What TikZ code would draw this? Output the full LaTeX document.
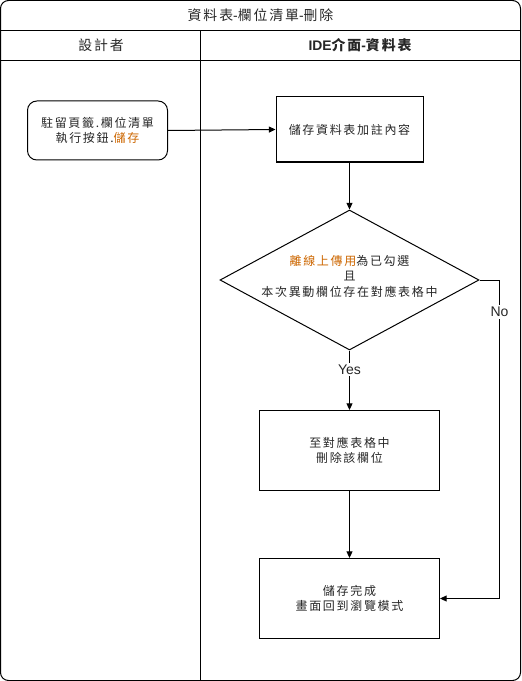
\documentclass[tikz,border=0pt]{standalone}
\usepackage{fontspec}
\newfontfamily\cjk{Noto Sans CJK TC}[LetterSpace=14]
\newfontfamily\latin{Liberation Sans}
\usetikzlibrary{shapes.geometric,arrows.meta}
\definecolor{accent}{HTML}{CC6600}
\begin{document}
\begin{tikzpicture}[x=0.75pt,y=-0.75pt,
  every node/.style={font=\cjk\fontsize{9}{11.6}\selectfont, text=black!85},
  frame/.style={draw=black, line width=0.75pt},
  head/.style={font=\cjk\fontsize{10.4}{12}\selectfont},
  stepbox/.style={draw=black, line width=0.75pt, align=center, inner sep=0pt},
  flow/.style={draw=black, line width=0.75pt, -{Triangle[length=5pt,width=4.5pt]}},
  lbl/.style={fill=white, inner sep=1.5pt, font=\latin\fontsize{10.5}{12}\selectfont}]
\useasboundingbox (0,0) rectangle (521,681);
% pool frame, title band and lane headers
\draw[frame, rounded corners=6pt] (0.5,0.5) rectangle (520.5,680.5);
\draw[frame] (0.5,30.5) -- (520.5,30.5);
\draw[frame] (0.5,60.5) -- (520.5,60.5);
\draw[frame] (200.5,30.5) -- (200.5,680.5);
\node[head] (title) at (260.5,15.5) {資料表{\latin -}欄位清單{\latin -}刪除};
\node[head] (laneA) at (101,45.5) {設計者};
\node[head, font=\cjk\bfseries\fontsize{10.4}{12}\selectfont] (laneB) at (360,45.5)
  {{\latin\bfseries IDE}介面{\latin\bfseries -}資料表};
% steps
\node[stepbox, rounded corners=7pt, minimum width=105pt, minimum height=44.25pt]
  (start) at (97.5,130.5) {駐留頁籤.欄位清單\\執行按鈕.\textcolor{accent}{儲存}};
\node[stepbox, minimum width=110.25pt, minimum height=48.75pt]
  (save) at (349.5,129.5) {儲存資料表加註內容};
\node[stepbox, diamond, minimum width=194.25pt, minimum height=105pt]
  (check) at (349.5,280) {};
\node[align=center] (checktext) at (349.5,276)
  {\textcolor{accent}{離線上傳用}為已勾選\\且\\本次異動欄位存在對應表格中};
\node[stepbox, minimum width=135pt, minimum height=60pt]
  (del) at (349.5,450.5) {至對應表格中\\刪除該欄位};
\node[stepbox, minimum width=135pt, minimum height=60pt]
  (done) at (349.5,598.5) {儲存完成\\畫面回到瀏覽模式};
% connectors
\coordinate (turn1) at (499.5,280);
\coordinate (turn2) at (499.5,598.5);
\draw[flow] (start.east) -- (save.west);
\draw[flow] (save.south) -- (check.north);
\draw[flow] (check.south) -- node[lbl, pos=0.32] (yes) {Yes} (del.north);
\draw[flow] (del.south) -- (done.north);
\draw[flow] (check.east) -- (turn1) -- node[lbl, pos=0.1] (no) {No} (turn2) -- (done.east);
\end{tikzpicture}
\end{document}
